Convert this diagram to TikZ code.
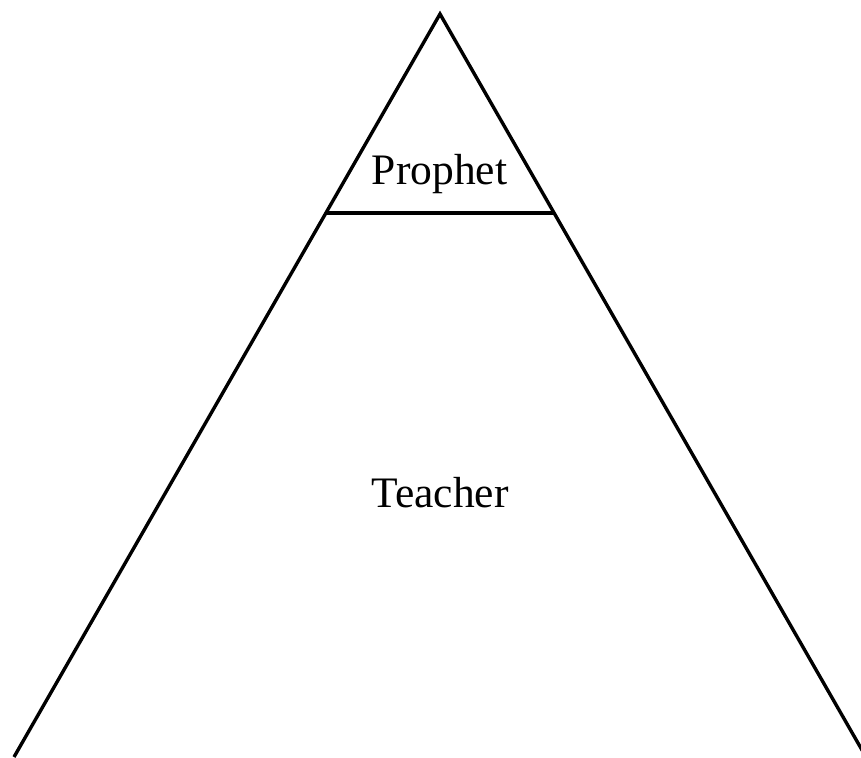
\documentclass[tikz,border=0pt]{standalone}
\usepackage{fontspec}
\setmainfont{Liberation Serif}
\usetikzlibrary{calc}

\begin{document}
\begin{tikzpicture}[x=1pt,y=1pt,
   edge/.style={draw=black,line width=3.4pt},
   tier/.style={font=\fontsize{43.5}{50}\selectfont,inner sep=0pt,anchor=base}]
  \clip (0,0) rectangle (861,757);
  \useasboundingbox (0,0) rectangle (861,757);
  \coordinate (apex) at (440,743);
  \coordinate (baseL) at (14,0);
  \coordinate (baseR) at (866,0);
  \coordinate (cutL) at ($(apex)!0.2678!(baseL)$);
  \coordinate (cutR) at ($(apex)!0.2678!(baseR)$);
  \draw[edge,line join=miter] (baseL) -- (apex) -- (baseR);
  \draw[edge] (cutL) -- (cutR);
  \node[tier] (prophet) at (439.5,572) {Prophet};
  \node[tier] (teacher) at (440,249) {Teacher};
\end{tikzpicture}
\end{document}
